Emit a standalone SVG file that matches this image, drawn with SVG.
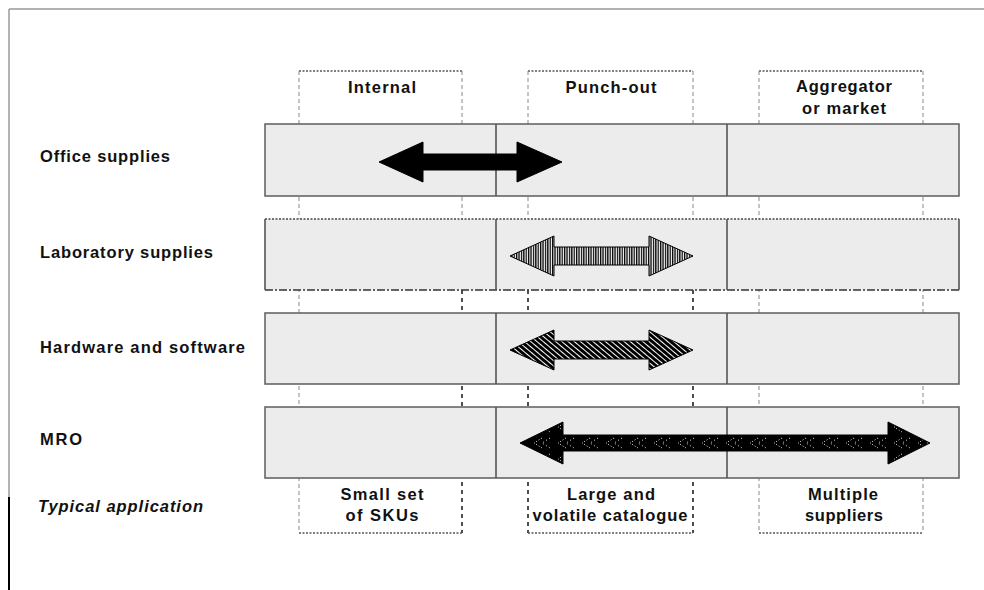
<svg xmlns="http://www.w3.org/2000/svg" width="984" height="590" viewBox="0 0 984 590">
<style>
  text { font-family: "Liberation Sans", Arial, sans-serif; font-size: 16.5px; font-weight: bold; fill: #111; }
  .lbl { text-anchor: start; }
  .ctr { text-anchor: middle; }
  .ital { font-style: italic; }
  .bar { fill: #ececec; stroke: #666; stroke-width: 1.6; }
  .div { stroke: #555; stroke-width: 1.6; }
  .col { stroke: #888; stroke-width: 1; stroke-dasharray: 4 3; fill: none; }
  .colDark { stroke: #222; stroke-width: 1.6; stroke-dasharray: 4 4; fill: none; }
  .dot { stroke: #555; stroke-width: 1.4; stroke-dasharray: 2 1.5; fill: none; }
  .arrow { stroke: #000; stroke-width: 1; }
</style>
<defs>
  <pattern id="vstripe" width="2.4" height="3" patternUnits="userSpaceOnUse">
    <rect width="2.4" height="3" fill="#fff"/>
    <rect width="1.3" height="3" fill="#000"/>
  </pattern>
  <pattern id="diag" width="4" height="4" patternUnits="userSpaceOnUse" patternTransform="rotate(-50)">
    <rect width="4" height="4" fill="#fff"/>
    <rect width="3" height="4" fill="#000"/>
  </pattern>
  <pattern id="chev" x="0" y="435" width="24" height="16" patternUnits="userSpaceOnUse">
    <rect width="24" height="16" fill="#000"/>
    <polyline points="14,3 6,8 14,13" fill="none" stroke="#fff" stroke-width="0.9" stroke-dasharray="1 2"/>
    <polyline points="22,3 14,8 22,13" fill="none" stroke="#fff" stroke-width="0.9" stroke-dasharray="1 2.5"/>
  </pattern>
</defs>

<g id="frame">
  <line x1="9" y1="9" x2="984" y2="9" stroke="#999" stroke-width="1.5"/>
  <line x1="9" y1="9" x2="9" y2="497" stroke="#999" stroke-width="1.5"/>
  <line x1="9" y1="497" x2="9" y2="590" stroke="#000" stroke-width="2"/>
</g>

<g id="columns">
  <g id="col-internal">
    <path class="dot" d="M299,71 H462"/>
    <path class="col" d="M299,71 V533"/>
    <path class="col" d="M462,71 V290"/>
    <path class="colDark" d="M462,290 V533"/>
    <path class="dot" d="M299,533 H462"/>
    <text class="ctr" x="382" y="93" textLength="68" lengthAdjust="spacing">Internal</text>
  </g>
  <g id="col-punchout">
    <path class="dot" d="M528,71 H693"/>
    <path class="col" d="M528,71 V290"/>
    <path class="colDark" d="M528,290 V533"/>
    <path class="col" d="M693,71 V290"/>
    <path class="colDark" d="M693,290 V533"/>
    <path class="dot" d="M528,533 H693"/>
    <text class="ctr" x="611" y="93" textLength="91" lengthAdjust="spacing">Punch-out</text>
  </g>
  <g id="col-aggregator">
    <path class="dot" d="M759,71 H923"/>
    <path class="col" d="M759,71 V533"/>
    <path class="col" d="M923,71 V533"/>
    <path class="dot" d="M759,533 H923"/>
    <text class="ctr" x="844" y="92" textLength="96" lengthAdjust="spacing">Aggregator</text>
    <text class="ctr" x="844" y="114" textLength="84" lengthAdjust="spacing">or market</text>
  </g>
</g>

<g id="row-office">
  <rect class="bar" x="265" y="124" width="694" height="72"/>
  <line class="div" x1="496" y1="124" x2="496" y2="196"/>
  <line class="div" x1="727" y1="124" x2="727" y2="196"/>
  <text class="lbl" x="40" y="162" textLength="130" lengthAdjust="spacing">Office supplies</text>
</g>

<g id="row-laboratory">
  <rect x="265" y="219" width="694" height="71" fill="#ececec" stroke="none"/>
  <line x1="265" y1="219" x2="959" y2="219" stroke="#444" stroke-width="1.3" stroke-dasharray="2 1.5"/>
  <line x1="265" y1="290" x2="959" y2="290" stroke="#333" stroke-width="1.4" stroke-dasharray="8 2 2 2"/>
  <line class="div" x1="265" y1="219" x2="265" y2="290"/>
  <line class="div" x1="959" y1="219" x2="959" y2="290"/>
  <line class="div" x1="496" y1="219" x2="496" y2="290"/>
  <line class="div" x1="727" y1="219" x2="727" y2="290"/>
  <text class="lbl" x="40" y="258" textLength="173" lengthAdjust="spacing">Laboratory supplies</text>
</g>

<g id="row-hardware">
  <rect class="bar" x="265" y="313" width="694" height="71"/>
  <line class="div" x1="496" y1="313" x2="496" y2="384"/>
  <line class="div" x1="727" y1="313" x2="727" y2="384"/>
  <text class="lbl" x="40" y="353" textLength="205" lengthAdjust="spacing">Hardware and software</text>
</g>

<g id="row-mro">
  <rect class="bar" x="265" y="407" width="694" height="71"/>
  <line class="div" x1="496" y1="407" x2="496" y2="478"/>
  <line class="div" x1="727" y1="407" x2="727" y2="478"/>
  <text class="lbl" x="40" y="445" textLength="42" lengthAdjust="spacing">MRO</text>
</g>

<g id="typical-application">
  <text class="lbl ital" x="38" y="512" textLength="165" lengthAdjust="spacing">Typical application</text>
  <text class="ctr" x="382" y="500" textLength="83" lengthAdjust="spacing">Small set</text>
  <text class="ctr" x="382" y="521" textLength="73" lengthAdjust="spacing">of SKUs</text>
  <text class="ctr" x="611" y="500" textLength="88" lengthAdjust="spacing">Large and</text>
  <text class="ctr" x="610" y="521" textLength="155" lengthAdjust="spacing">volatile catalogue</text>
  <text class="ctr" x="843" y="500" textLength="70" lengthAdjust="spacing">Multiple</text>
  <text class="ctr" x="844" y="521" textLength="78" lengthAdjust="spacing">suppliers</text>
</g>

<g id="connectors">
  <polygon id="arrow-office" class="arrow" fill="#000" points="379,162 423,142 423,154 517,154 517,142 562,162 517,182 517,170 423,170 423,182"/>
  <polygon id="arrow-laboratory" class="arrow" fill="url(#vstripe)" points="510,256 554,236 554,247 649,247 649,236 693,256 649,276 649,265 554,265 554,276"/>
  <polygon id="arrow-hardware" class="arrow" fill="url(#diag)" points="510,350 554,330 554,341 649,341 649,330 693,350 649,370 649,359 554,359 554,370"/>
  <polygon id="arrow-mro" class="arrow" fill="url(#chev)" points="520,443 563,422 563,435 888,435 888,422 930,443 888,464 888,451 563,451 563,464"/>
</g>
</svg>
